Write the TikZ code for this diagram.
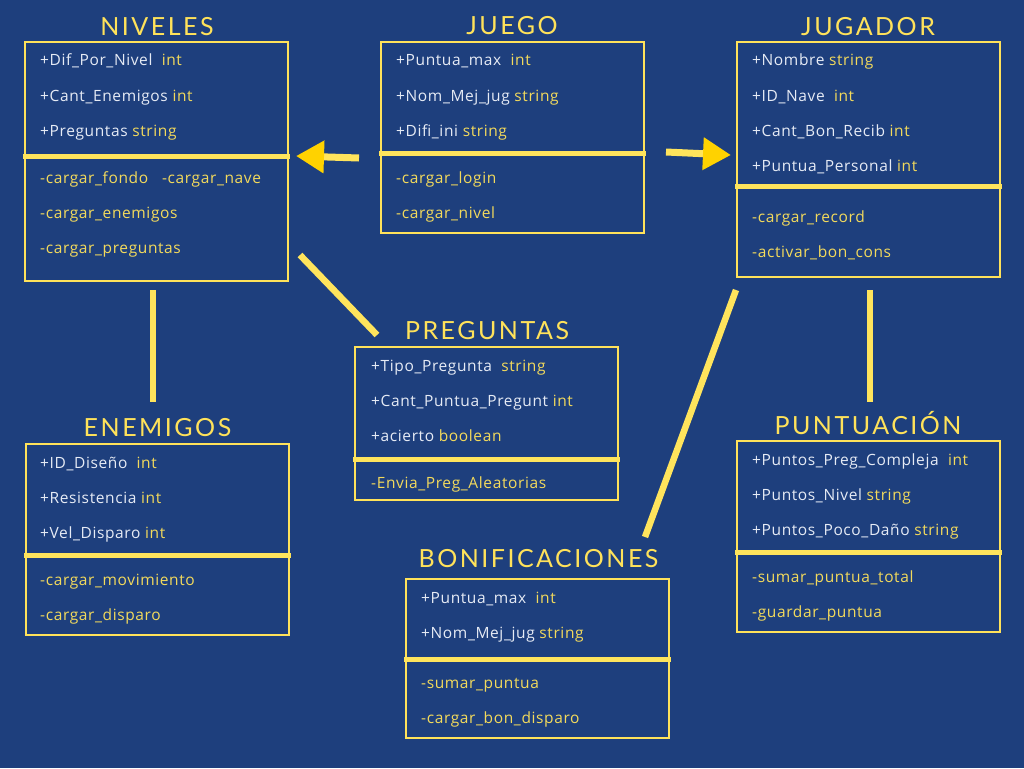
\documentclass[tikz,border=0pt]{standalone}
\usepackage{fontspec}
\setmainfont{Open Sans}[LetterSpace=4]
\newfontfamily\titlefont[LetterSpace=10]{Lato}
\usetikzlibrary{arrows.meta}
\definecolor{bg}{HTML}{1E3F7D}
\definecolor{boxc}{HTML}{FFE25A}
\definecolor{sepc}{HTML}{FFE45C}
\definecolor{ty}{HTML}{F3DA5C}
\definecolor{wt}{HTML}{E6EBF5}
\definecolor{headc}{HTML}{FFD200}
\tikzset{
  classbox/.style={draw=boxc, line width=2pt, inner sep=0pt, minimum width=263pt},
  sepline/.style={draw=sepc, line width=5pt},
  titletext/.style={text=boxc, font=\titlefont\fontsize{25}{28}\selectfont, anchor=base, inner sep=0pt},
  attrtext/.style={text=wt, font=\fontsize{15.5}{18}\selectfont, anchor=base west, inner sep=0pt},
  methtext/.style={text=ty, font=\fontsize{15.5}{18}\selectfont, anchor=base west, inner sep=0pt},
  link/.style={draw=sepc, line width=6.5pt},
  arrowlink/.style={draw=sepc, line width=7pt, -{Triangle[length=28pt,width=31pt,fill=headc,color=headc]}},
}
\newcommand{\ty}[1]{\textcolor{ty}{#1}}
\begin{document}
\begin{tikzpicture}[x=1pt,y=-1pt]
\fill[bg] (0,0) rectangle (1024,768);
\useasboundingbox (0,0) rectangle (1024,768);

% ---------- NIVELES ----------
\node[classbox, minimum height=239pt] (niv) at (156.5,161.5) {};
\node[titletext] (nivT) at (157,36) {NIVELES};
\draw[sepline] (23,156) -- (290,156);
\node[attrtext] (niv1) at (40,66) {+Dif\_Por\_Nivel\ \ \ty{int}};
\node[attrtext] (niv2) at (40,101) {+Cant\_Enemigos \ty{int}};
\node[attrtext] (niv3) at (40,136) {+Preguntas \ty{string}};
\node[methtext] (niv4) at (40,183) {-cargar\_fondo\ \ \ -cargar\_nave};
\node[methtext] (niv5) at (40,218) {-cargar\_enemigos};
\node[methtext] (niv6) at (40,253) {-cargar\_preguntas};

% ---------- JUEGO ----------
\node[classbox, minimum height=191pt] (jue) at (512.5,137.5) {};
\node[titletext] (jueT) at (512,35) {JUEGO};
\draw[sepline] (379,153) -- (646,153);
\node[attrtext] (jue1) at (396,66) {+Puntua\_max\ \ \ty{int}};
\node[attrtext] (jue2) at (396,101) {+Nom\_Mej\_jug \ty{string}};
\node[attrtext] (jue3) at (396,136) {+Difi\_ini \ty{string}};
\node[methtext] (jue4) at (396,183) {-cargar\_login};
\node[methtext] (jue5) at (396,218) {-cargar\_nivel};

% ---------- JUGADOR ----------
\node[classbox, minimum height=235pt] (jug) at (868.5,159.5) {};
\node[titletext] (jugT) at (868,35.5) {JUGADOR};
\draw[sepline] (735,186) -- (1002,186);
\node[attrtext] (jug1) at (752,66) {+Nombre \ty{string}};
\node[attrtext] (jug2) at (752,101) {+ID\_Nave\ \ \ty{int}};
\node[attrtext] (jug3) at (752,136) {+Cant\_Bon\_Recib \ty{int}};
\node[attrtext] (jug4) at (752,171) {+Puntua\_Personal \ty{int}};
\node[methtext] (jug5) at (752,222) {-cargar\_record};
\node[methtext] (jug6) at (752,257) {-activar\_bon\_cons};

% ---------- PREGUNTAS ----------
\node[classbox, minimum height=153pt] (pre) at (486.5,423.5) {};
\node[titletext] (preT) at (487,339) {PREGUNTAS};
\draw[sepline] (353,459) -- (620,459);
\node[attrtext] (pre1) at (371,371.5) {+Tipo\_Pregunta\ \ \ty{string}};
\node[attrtext] (pre2) at (371,406.5) {+Cant\_Puntua\_Pregunt \ty{int}};
\node[attrtext] (pre3) at (371,441.5) {+acierto \ty{boolean}};
\node[methtext] (pre4) at (371,488) {-Envia\_Preg\_Aleatorias};

% ---------- ENEMIGOS ----------
\node[classbox, minimum height=191pt] (ene) at (157.5,539.5) {};
\node[titletext] (eneT) at (157.5,436.5) {ENEMIGOS};
\draw[sepline] (24,555) -- (291,555);
\node[attrtext] (ene1) at (40,468) {+ID\_Diseño\ \ \ty{int}};
\node[attrtext] (ene2) at (40,503) {+Resistencia \ty{int}};
\node[attrtext] (ene3) at (40,538) {+Vel\_Disparo \ty{int}};
\node[methtext] (ene4) at (40,585) {-cargar\_movimiento};
\node[methtext] (ene5) at (40,620) {-cargar\_disparo};

% ---------- BONIFICACIONES ----------
\node[classbox, minimum height=159pt] (bon) at (537.5,658.5) {};
\node[titletext] (bonT) at (538.5,567) {BONIFICACIONES};
\draw[sepline] (404,659) -- (671,659);
\node[attrtext] (bon1) at (421,603) {+Puntua\_max\ \ \ty{int}};
\node[attrtext] (bon2) at (421,638) {+Nom\_Mej\_jug \ty{string}};
\node[methtext] (bon3) at (421,688) {-sumar\_puntua};
\node[methtext] (bon4) at (421,723) {-cargar\_bon\_disparo};

% ---------- PUNTUACION ----------
\node[classbox, minimum height=191pt] (pun) at (868.5,536.5) {};
\node[titletext] (punT) at (868,434) {PUNTUACIÓN};
\draw[sepline] (735,552) -- (1002,552);
\node[attrtext] (pun1) at (752,465) {+Puntos\_Preg\_Compleja\ \ \ty{int}};
\node[attrtext] (pun2) at (752,500) {+Puntos\_Nivel \ty{string}};
\node[attrtext] (pun3) at (752,535) {+Puntos\_Poco\_Daño \ty{string}};
\node[methtext] (pun4) at (752,582) {-sumar\_puntua\_total};
\node[methtext] (pun5) at (752,617) {-guardar\_puntua};

% ---------- connectors ----------
\coordinate (a1s) at (359,158);
\coordinate (a1e) at (296,156);
\draw[arrowlink] (a1s) -- (a1e);
\coordinate (a2s) at (666,152);
\coordinate (a2e) at (731,155);
\draw[arrowlink] (a2s) -- (a2e);
\coordinate (l1s) at (300,255);
\coordinate (l1e) at (377,335);
\draw[link] (l1s) -- (l1e);
\coordinate (l2s) at (736,290);
\coordinate (l2e) at (645,537);
\draw[link] (l2s) -- (l2e);
\coordinate (l3s) at (153,290);
\coordinate (l3e) at (153,402);
\draw[link] (l3s) -- (l3e);
\coordinate (l4s) at (870,290);
\coordinate (l4e) at (870,402);
\draw[link] (l4s) -- (l4e);
\end{tikzpicture}
\end{document}
